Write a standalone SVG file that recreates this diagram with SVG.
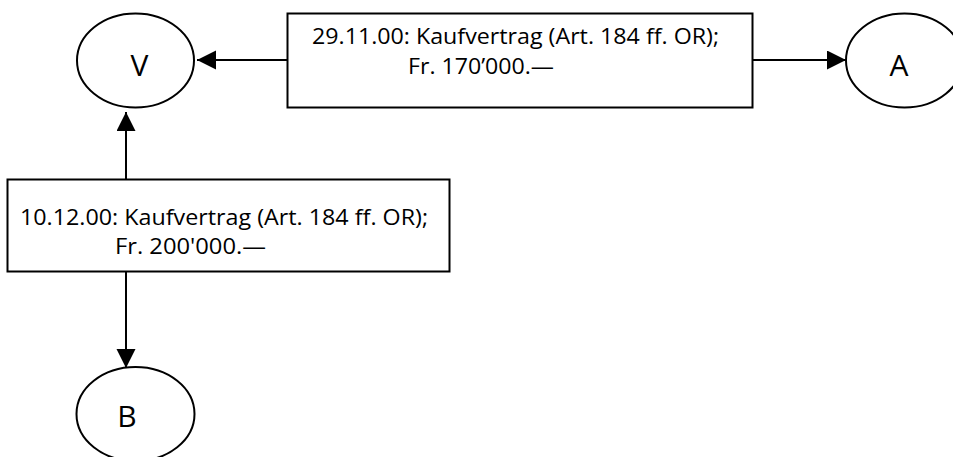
<svg xmlns="http://www.w3.org/2000/svg" width="953" height="457" viewBox="0 0 953 457">
<defs>
<style>
.shape{fill:#fff;stroke:#000;stroke-width:2}
.edge{stroke:#000;stroke-width:2;fill:none}
.lbl{font-family:"Open Sans","Noto Sans",sans-serif;font-size:22px;fill:#000}
.big{font-family:"Open Sans","Noto Sans",sans-serif;font-size:30px;fill:#000}
</style>
<marker id="arr" markerWidth="20" markerHeight="20" refX="19" refY="9.5" orient="auto" markerUnits="userSpaceOnUse">
<path d="M0,0 L19,9.5 L0,19 Z" fill="#000"/>
</marker>
</defs>
<g id="connectors">
<line class="edge" x1="287" y1="60" x2="197" y2="60" marker-end="url(#arr)"/>
<line class="edge" x1="753" y1="60" x2="846" y2="60" marker-end="url(#arr)"/>
<line class="edge" x1="126" y1="179" x2="126" y2="112" marker-end="url(#arr)"/>
<line class="edge" x1="126" y1="272" x2="126" y2="368" marker-end="url(#arr)"/>
</g>
<g id="node-V">
<ellipse class="shape" cx="135.5" cy="60.5" rx="58.5" ry="47"/>
<text class="big" x="139.5" y="76" text-anchor="middle">V</text>
</g>
<g id="node-A">
<ellipse class="shape" cx="904.5" cy="60.5" rx="58.5" ry="47"/>
<text class="big" x="899" y="76" text-anchor="middle">A</text>
</g>
<g id="node-B">
<ellipse class="shape" cx="135.5" cy="414" rx="59" ry="47"/>
<text class="big" x="127" y="427" text-anchor="middle">B</text>
</g>
<g id="box-1">
<rect class="shape" x="287.5" y="13.5" width="465" height="94"/>
<text class="lbl" x="312" y="44" textLength="407" lengthAdjust="spacingAndGlyphs">29.11.00: Kaufvertrag (Art. 184 ff. OR);</text>
<text class="lbl" x="408" y="74" textLength="146" lengthAdjust="spacingAndGlyphs">Fr. 170’000.—</text>
</g>
<g id="box-2">
<rect class="shape" x="7.5" y="179.5" width="442" height="92"/>
<text class="lbl" x="20" y="225" textLength="408" lengthAdjust="spacingAndGlyphs">10.12.00: Kaufvertrag (Art. 184 ff. OR);</text>
<text class="lbl" x="115" y="254" textLength="151" lengthAdjust="spacingAndGlyphs">Fr. 200'000.—</text>
</g>
</svg>
